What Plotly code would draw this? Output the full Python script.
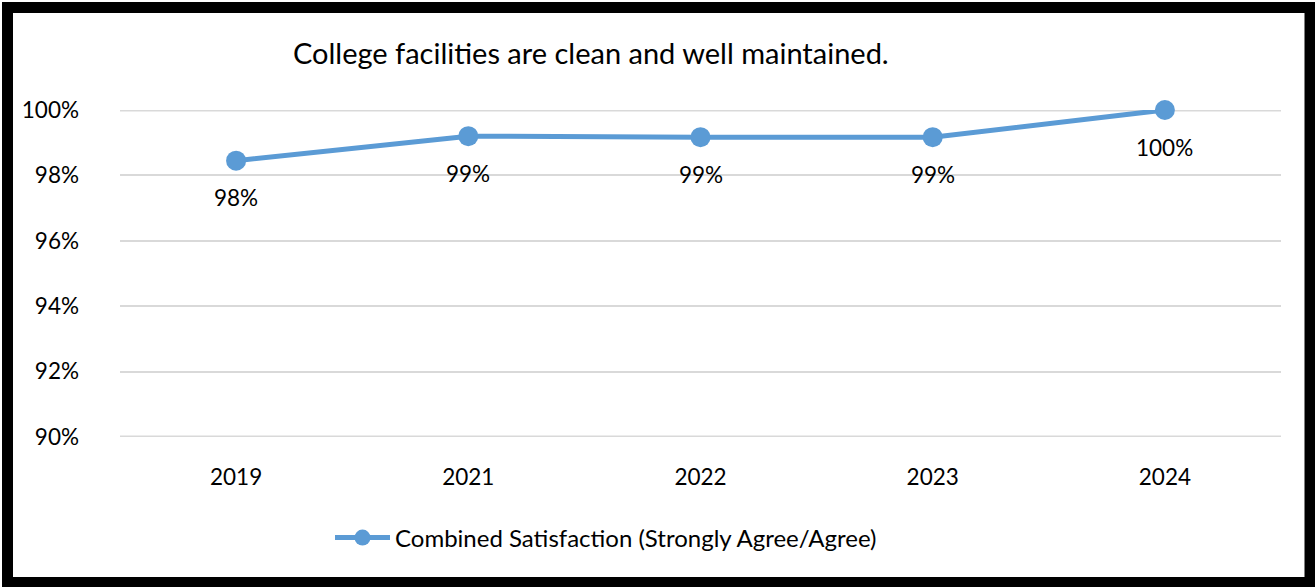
import plotly.graph_objects as go

# survey years and combined satisfaction (%)
years = ["2019", "2021", "2022", "2023", "2024"]
satisfaction = [98.45, 99.2, 99.17, 99.17, 100.0]
y_ticks = [90, 92, 94, 96, 98, 100]

series_name = "Combined Satisfaction (Strongly Agree/Agree)"
title = "College facilities are clean and well maintained."
blue = "#5b9bd5"
grid = "#d9d9d9"
font = "Lato"

fig = go.Figure()
fig.add_trace(go.Scatter(
    x=years, y=satisfaction, mode="lines+markers", name=series_name,
    line=dict(color=blue, width=5),
    marker=dict(color=blue, size=20),
    cliponaxis=False,
))

# data labels under each point (category index as x)
for i, v in enumerate(satisfaction):
    fig.add_annotation(x=i, y=v, text=f"{round(v)}%", showarrow=False,
                       yshift=-37, font=dict(size=22.5, color="#000000", family=font))

# pixel geometry of plot area
L, R, T, B = 120, 34, 110, 150
W, H = 1315 - L - R, 587 - T - B

def px(x):
    return (x - L) / W

def py(y):
    return (587 - B - y) / H

# plotly drops gridlines sitting on the range ends, so draw those two by hand
# (half of the stroke gets clipped at the plot edge, hence the doubled width)
for t in (y_ticks[0], y_ticks[-1]):
    fig.add_shape(type="line", xref="paper", yref="y", x0=0, x1=1, y0=t, y1=t,
                  line=dict(color=grid, width=3), layer="below")

# outer black frame
fig.add_shape(type="rect", xref="paper", yref="paper",
              x0=px(7.5), x1=px(1310), y0=py(7.5), y1=py(582.5),
              line=dict(color="#000000", width=11), fillcolor="rgba(0,0,0,0)")

fig.add_annotation(text=title, xref="paper", yref="paper", x=px(591), y=py(52),
                   xanchor="center", yanchor="middle", showarrow=False,
                   font=dict(size=29, color="#000000", family=font))

fig.update_layout(
    width=1315, height=587,
    margin=dict(l=L, r=R, t=T, b=B),
    paper_bgcolor="white", plot_bgcolor="white",
    font=dict(family=font, size=22.5, color="#000000"),
    showlegend=True,
    legend=dict(orientation="h", x=px(330), y=py(538), xanchor="left", yanchor="middle",
                font=dict(size=24), itemwidth=55),
)
fig.update_xaxes(type="category", range=[-0.5, len(years) - 0.5], showgrid=False,
                 showline=False, ticks="", ticklabelstandoff=24, tickfont=dict(size=22.5))
fig.update_yaxes(range=[90, 100], tickvals=y_ticks, ticktext=[f"{t}%" for t in y_ticks],
                 showgrid=True, gridcolor=grid, gridwidth=1.5, zeroline=False,
                 showline=False, ticks="", ticklabelstandoff=40, tickfont=dict(size=22.5))

fig.write_html("out.html", config={"displayModeBar": False},
               post_script="document.body.style.margin='0';")
